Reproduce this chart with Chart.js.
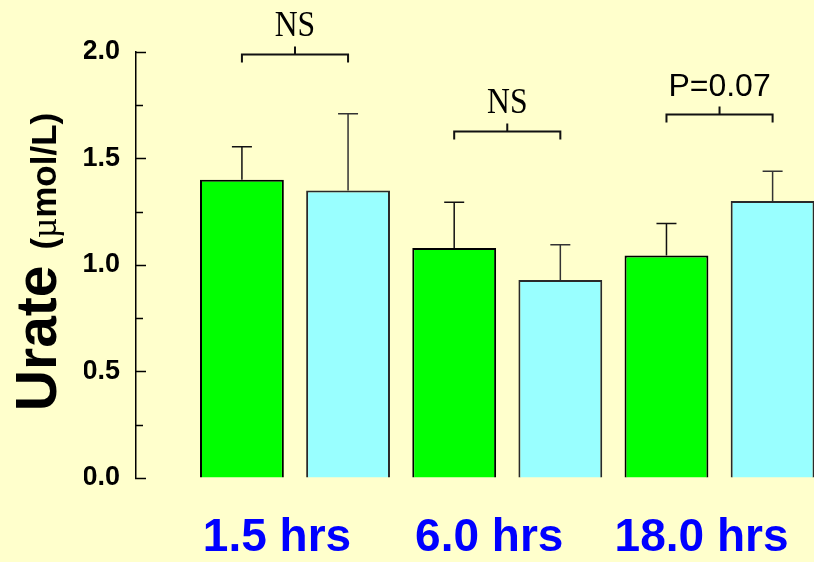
<!DOCTYPE html>
<html>
<head>
<meta charset="utf-8">
<script src="https://cdn.jsdelivr.net/npm/chart.js@4/dist/chart.umd.min.js"></script>
<style>
  html, body { margin: 0; padding: 0; background: #FFFFCC; }
  canvas { display: block; }
</style>
</head>
<body>
<canvas id="c" width="814" height="562"></canvas>
<script>
// Urate (µmol/L) at three time points, two groups, mean ± SEM
const timepoints = ['1.5 hrs', '6.0 hrs', '18.0 hrs'];
const groupA = [1.40, 1.08, 1.045];
const groupAErr = [0.155, 0.215, 0.15];
const groupB = [1.35, 0.93, 1.30];
const groupBErr = [0.36, 0.165, 0.14];
const yTicks = [0.0, 0.5, 1.0, 1.5, 2.0];
const yMinorTicks = [0.25, 0.75, 1.25, 1.75];
const comparisonLabels = ['NS', 'NS', 'P=0.07'];
const comparisonLevels = [1.99, 1.63, 1.71];

const SANS = '"Liberation Sans", Arial, sans-serif';
const SERIF = '"Liberation Serif", "Times New Roman", serif';

const overlay = {
  id: 'overlay',
  afterDatasetsDraw(chart) {
    const { ctx, scales: { y } } = chart;
    const series = [[groupA, groupAErr, '#111'], [groupB, groupBErr, '#333']];
    ctx.save();
    ctx.lineWidth = 1.5;
    series.forEach(([vals, errs, col], di) => {
      const meta = chart.getDatasetMeta(di);
      ctx.strokeStyle = col;
      meta.data.forEach((bar, i) => {
        const yTop = y.getPixelForValue(vals[i] + errs[i]);
        ctx.beginPath();
        ctx.moveTo(bar.x, bar.y);
        ctx.lineTo(bar.x, yTop);
        ctx.moveTo(bar.x - 10, yTop);
        ctx.lineTo(bar.x + 10, yTop);
        ctx.stroke();
      });
    });
    ctx.restore();
  },
  afterDraw(chart) {
    const { ctx, chartArea, scales: { y } } = chart;
    ctx.save();

    // minor ticks on the value axis
    ctx.strokeStyle = '#000';
    ctx.lineWidth = 1.5;
    yMinorTicks.forEach(v => {
      const py = Math.round(y.getPixelForValue(v)) + 0.5;
      ctx.beginPath();
      ctx.moveTo(chartArea.left, py);
      ctx.lineTo(chartArea.left + 7, py);
      ctx.stroke();
    });

    // comparison brackets between the two bars of each time point
    const metaA = chart.getDatasetMeta(0);
    const metaB = chart.getDatasetMeta(1);
    comparisonLabels.forEach((label, i) => {
      const x1 = metaA.data[i].x;
      const x2 = metaB.data[i].x;
      const xc = (x1 + x2) / 2;
      const py = Math.round(y.getPixelForValue(comparisonLevels[i])) + 0.5;
      ctx.strokeStyle = '#111';
      ctx.lineWidth = 2;
      ctx.beginPath();
      ctx.moveTo(x1, py + 8);
      ctx.lineTo(x1, py);
      ctx.lineTo(x2, py);
      ctx.lineTo(x2, py + 8);
      ctx.moveTo(xc, py);
      ctx.lineTo(xc, py - 8);
      ctx.stroke();

      ctx.fillStyle = '#000';
      ctx.textAlign = 'center';
      ctx.textBaseline = 'alphabetic';
      if (label === 'NS') {
        ctx.save();
        ctx.translate(xc, py - 19);
        ctx.scale(0.88, 1);
        ctx.font = '36px ' + SERIF;
        ctx.fillText(label, 0, 0);
        ctx.restore();
      } else {
        ctx.font = '32px ' + SANS;
        ctx.fillText(label, xc, py - 19);
      }
    });

    // value-axis title: large "Urate" followed by the smaller unit
    const parts = [
      { t: 'Urate ', f: 'bold 57px ' + SANS },
      { t: '(', f: 'bold 35px ' + SANS },
      { t: 'µ', f: '35px ' + SERIF },
      { t: 'mol/L)', f: 'bold 35px ' + SANS }
    ];
    let total = 0;
    parts.forEach(p => { ctx.font = p.f; p.w = ctx.measureText(p.t).width; total += p.w; });
    const midY = (chartArea.top + chartArea.bottom) / 2 - 3;
    ctx.translate(56, midY);
    ctx.rotate(-Math.PI / 2);
    ctx.fillStyle = '#000';
    ctx.textAlign = 'left';
    ctx.textBaseline = 'alphabetic';
    let x = -total / 2;
    parts.forEach(p => { ctx.font = p.f; ctx.fillText(p.t, x, 0); x += p.w; });

    ctx.restore();
  }
};

new Chart(document.getElementById('c'), {
  type: 'bar',
  data: {
    datasets: [
      {
        label: 'Group A',
        data: groupA.map((v, i) => ({ x: i, y: v })),
        backgroundColor: '#00FF00',
        borderColor: '#000',
        borderWidth: 2
      },
      {
        label: 'Group B',
        data: groupB.map((v, i) => ({ x: i, y: v })),
        backgroundColor: '#99FFFF',
        borderColor: '#2a2a2a',
        borderWidth: 2
      }
    ]
  },
  options: {
    responsive: false,
    animation: false,
    events: [],
    categoryPercentage: 1.0,
    barPercentage: 0.79,
    layout: { padding: { left: 84, top: 52, right: 0, bottom: 0 } },
    plugins: { legend: { display: false }, tooltip: { enabled: false }, title: { display: false } },
    scales: {
      x: {
        type: 'linear',
        offset: false,
        min: -0.749,
        max: 2.445,
        afterBuildTicks: s => { s.ticks = timepoints.map((_, i) => ({ value: i })); },
        afterFit: s => { s.height = 84; s.paddingLeft = 0; s.paddingRight = 0; },
        grid: { display: false, drawTicks: false, offset: false },
        border: { display: false },
        ticks: {
          callback: v => timepoints[v],
          color: '#0000FF',
          font: { family: SANS, size: 46, weight: 'bold', lineHeight: 1 },
          padding: 37,
          labelOffset: -18,
          maxRotation: 0,
          autoSkip: false
        }
      },
      y: {
        min: 0,
        max: 2,
        afterBuildTicks: s => { s.ticks = yTicks.map(v => ({ value: v })); },
        afterFit: s => { s.width = 52; },
        grid: {
          drawOnChartArea: false,
          drawTicks: true,
          tickLength: -10,
          tickColor: '#000',
          tickWidth: 1.5
        },
        border: { display: true, color: '#000', width: 1.5 },
        ticks: {
          callback: v => v.toFixed(1),
          color: '#000',
          font: { family: SANS, size: 27, weight: 'bold' },
          padding: 26
        }
      }
    }
  },
  plugins: [overlay]
});
</script>
</body>
</html>
